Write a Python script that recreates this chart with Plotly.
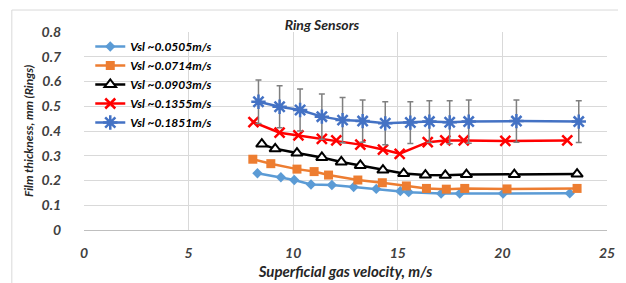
import plotly.graph_objects as go

vg_0505 = [8.29, 9.41, 10.05, 10.85, 11.85, 12.89, 13.97, 15.12, 15.52, 17.07, 17.96, 20.03, 23.22]
film_0505 = [0.229, 0.213, 0.202, 0.184, 0.182, 0.174, 0.166, 0.157, 0.153, 0.147, 0.147, 0.147, 0.148]

vg_0714 = [8.07, 8.93, 10.18, 11.00, 11.69, 13.09, 14.26, 15.41, 16.37, 17.32, 18.20, 20.22, 23.57]
film_0714 = [0.286, 0.268, 0.246, 0.236, 0.222, 0.202, 0.191, 0.178, 0.168, 0.165, 0.168, 0.166, 0.168]

vg_0903 = [8.50, 9.14, 10.18, 11.37, 12.30, 13.21, 14.29, 15.28, 16.32, 17.27, 18.28, 20.57, 23.57]
film_0903 = [0.347, 0.328, 0.311, 0.293, 0.275, 0.261, 0.242, 0.228, 0.222, 0.221, 0.224, 0.224, 0.226]

vg_1355 = [8.10, 9.35, 10.25, 11.37, 12.06, 13.21, 14.29, 15.09, 16.43, 17.27, 18.15, 20.14, 23.10]
film_1355 = [0.436, 0.393, 0.382, 0.368, 0.362, 0.345, 0.325, 0.308, 0.355, 0.362, 0.362, 0.360, 0.362]

vg_1851 = [8.34, 9.35, 10.33, 11.37, 12.36, 13.32, 14.40, 15.60, 16.51, 17.48, 18.39, 20.67, 23.65]
film_1851 = [0.518, 0.498, 0.485, 0.458, 0.444, 0.440, 0.431, 0.434, 0.438, 0.435, 0.438, 0.440, 0.438]
err_1851 = [0.088, 0.085, 0.085, 0.091, 0.091, 0.085, 0.087, 0.084, 0.084, 0.087, 0.087, 0.085, 0.084]

names = ["Vsl ~0.0505m/s", "Vsl ~0.0714m/s", "Vsl ~0.0903m/s", "Vsl ~0.1355m/s", "Vsl ~0.1851m/s"]

FONT = "Lato"
fig = go.Figure()

fig.add_trace(go.Scatter(x=vg_0505, y=film_0505, name=names[0], mode="lines+markers",
                         line=dict(color="#5B9BD5", width=2.5),
                         marker=dict(symbol="diamond", size=8, color="#5B9BD5")))
fig.add_trace(go.Scatter(x=vg_0714, y=film_0714, name=names[1], mode="lines+markers",
                         line=dict(color="#ED7D31", width=2.5),
                         marker=dict(symbol="square", size=9, color="#ED7D31")))
fig.add_trace(go.Scatter(x=vg_0903, y=film_0903, name=names[2], mode="lines+markers",
                         line=dict(color="#000000", width=2.5),
                         marker=dict(symbol="triangle-up", size=10, color="white",
                                     line=dict(color="#000000", width=2))))
fig.add_trace(go.Scatter(x=vg_1355, y=film_1355, name=names[3], mode="lines+markers",
                         line=dict(color="#FF0000", width=2.5),
                         marker=dict(symbol="x-thin-open", size=10, color="#FF0000",
                                     line=dict(color="#FF0000", width=2.5))))
fig.add_trace(go.Scatter(x=vg_1851, y=film_1851, name=names[4], mode="lines+markers",
                         line=dict(color="#4472C4", width=2.5),
                         error_y=dict(type="data", array=err_1851, visible=True,
                                      color="#7F7F7F", thickness=1.5, width=3),
                         marker=dict(symbol="asterisk-open", size=12, color="#4472C4",
                                     line=dict(color="#4472C4", width=2.5))))

axis_font = dict(family=FONT, size=14, color="#404040", weight="bold", style="italic")

# page body has an 8px default margin, so the figure is sized/offset to compensate
fig.update_layout(
    width=618, height=275,
    margin=dict(l=76, r=19, t=24, b=53, autoexpand=False),
    paper_bgcolor="white", plot_bgcolor="white",
    title=dict(text="Ring Sensors", x=0.455, xref="paper", xanchor="center",
               y=0.938, yref="container", yanchor="middle",
               font=dict(family=FONT, size=14, color="#262626", weight="bold", style="italic")),
    legend=dict(x=0.012, y=1.0, xanchor="left", yanchor="top",
                bgcolor="rgba(255,255,255,0)", tracegroupgap=0,
                font=dict(family=FONT, size=12, color="#000000", weight="bold", style="italic")),
    xaxis=dict(range=[0, 25], dtick=5, tick0=0, showgrid=True, gridcolor="#D9D9D9",
               gridwidth=1, zeroline=False, showline=True, linecolor="#BFBFBF",
               ticks="outside", ticklen=10, tickcolor="rgba(0,0,0,0)",
               tickfont=axis_font, mirror=False, automargin=False,
               title=dict(text="Superficial gas velocity, m/s", standoff=6,
                          font=dict(family=FONT, size=15, color="#262626", weight="bold", style="italic"))),
    yaxis=dict(range=[0, 0.8], dtick=0.1, tick0=0, showgrid=True, gridcolor="#D9D9D9",
               gridwidth=1, zeroline=False, showline=False,
               ticks="outside", ticklen=19, tickcolor="rgba(0,0,0,0)",
               tickfont=axis_font, automargin=False,
               title=dict(text="Film thickness, mm (Rings)", standoff=5,
                          font=dict(family=FONT, size=12, color="#262626", weight="bold", style="italic"))),
)

# outer chart frame
fig.add_shape(type="rect", xref="paper", yref="paper", x0=-0.138, x1=1.2, y0=-0.5, y1=1.111,
              line=dict(color="#D9D9D9", width=1), fillcolor="rgba(0,0,0,0)", layer="below")

fig.write_html("out.html")
